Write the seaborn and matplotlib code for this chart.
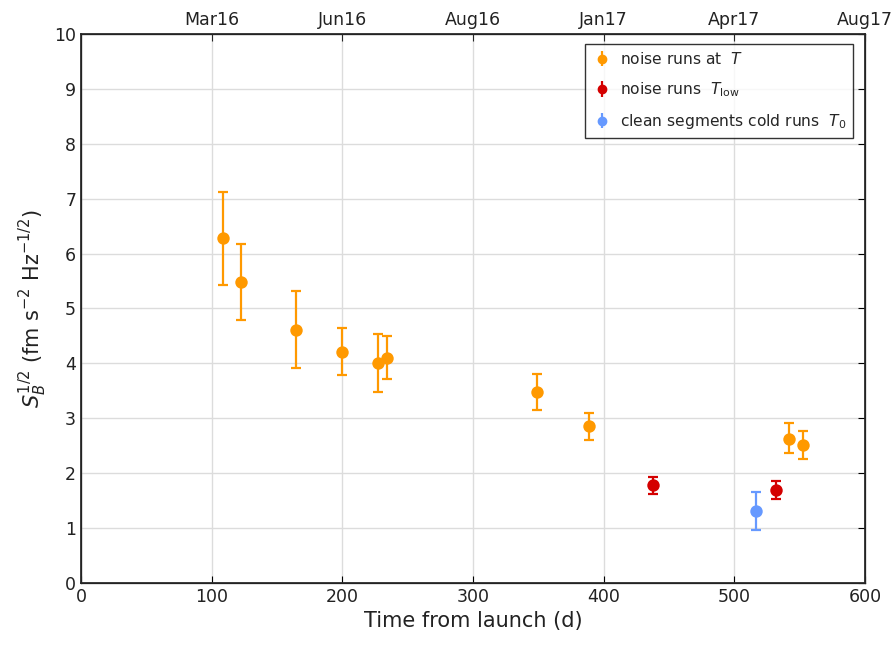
import matplotlib
matplotlib.use("Agg")
import matplotlib.pyplot as plt
import seaborn as sns
import pandas as pd
import numpy as np

# Data
t_noise = [108.7, 122.4, 164.5, 199.7, 227.3, 234.2, 349.0, 388.8, 541.8, 552.5]
s_noise = [6.28, 5.48, 4.61, 4.21, 4.01, 4.10, 3.48, 2.86, 2.62, 2.51]
lo_noise = [5.43, 4.79, 3.92, 3.79, 3.48, 3.72, 3.15, 2.60, 2.37, 2.26]
hi_noise = [7.12, 6.17, 5.32, 4.64, 4.54, 4.50, 3.81, 3.10, 2.91, 2.77]

t_low = [437.7, 531.9]
s_low = [1.78, 1.69]
lo_low = [1.62, 1.53]
hi_low = [1.93, 1.86]

t_clean = [516.6]
s_clean = [1.31]
lo_clean = [0.97]
hi_clean = [1.66]

top_ticks = [100, 200, 300, 400, 500, 600]
top_labels = ["Mar16", "Jun16", "Aug16", "Jan17", "Apr17", "Aug17"]

sns.set_theme(style="white")
plt.rcParams['font.family'] = ['DejaVu Sans']
plt.rcParams['mathtext.fontset'] = 'dejavusans'

fig = plt.figure(figsize=(8.94, 6.46), dpi=100)
ax = fig.add_axes([0.0906, 0.0975, 0.8770, 0.8499])

series = [
    (t_noise, s_noise, lo_noise, hi_noise, '#FF9900', 'noise runs at  $T$'),
    (t_low, s_low, lo_low, hi_low, '#D40000', 'noise runs  $T_{\\mathrm{low}}$'),
    (t_clean, s_clean, lo_clean, hi_clean, '#6699FF', 'clean segments cold runs  $T_0$'),
]
handles = []
for t, s, lo, hi, c, lab in series:
    df = pd.DataFrame({'t': t, 's': s})
    yerr = [np.array(s) - np.array(lo), np.array(hi) - np.array(s)]
    ax.errorbar(t, s, yerr=yerr, fmt='none', ecolor=c, elinewidth=1.6,
                capsize=3.5, capthick=1.6, zorder=2)
    sns.scatterplot(data=df, x='t', y='s', color=c, s=80, edgecolor=c,
                    linewidth=0, ax=ax, zorder=3, legend=False)
    handles.append(ax.errorbar([], [], yerr=[], fmt='o', color=c, ecolor=c,
                               markersize=6, elinewidth=1.6, capsize=3, capthick=1.6))

ax.set_xlim(0, 600)
ax.set_ylim(0, 10)
ax.set_xticks(range(0, 601, 100))
ax.set_yticks(range(0, 11))
ax.grid(True, color='#dcdcdc', linewidth=1)
ax.set_axisbelow(True)
for sp in ax.spines.values():
    sp.set_color('#111111')
    sp.set_linewidth(0.9)
ax.tick_params(direction='in', length=5, width=0.8, top=False, right=True,
               labelsize=12.5, colors='black', labelcolor='#222222')
ax.set_xlabel('Time from launch (d)', fontsize=15, color='#222222')
ax.set_ylabel('$S_B^{1/2}$ (fm s$^{-2}$ Hz$^{-1/2}$)', fontsize=15, color='#222222')

ax2 = ax.twiny()
ax2.set_xlim(ax.get_xlim())
ax2.set_xticks(top_ticks)
ax2.set_xticklabels(top_labels)
ax2.tick_params(direction='in', length=5, width=0.8, labelsize=12.5, labelcolor='#222222')

leg = ax.legend(handles=handles, labels=[s[5] for s in series], loc='upper right',
                bbox_to_anchor=(0.9847, 0.9818), borderaxespad=0, fontsize=11.2,
                frameon=True, fancybox=False, edgecolor='black', handletextpad=0.5,
                borderpad=0.45, labelspacing=0.85, handlelength=1.3)
leg.get_frame().set_linewidth(1.0)

fig.savefig('out.png', dpi=100)
